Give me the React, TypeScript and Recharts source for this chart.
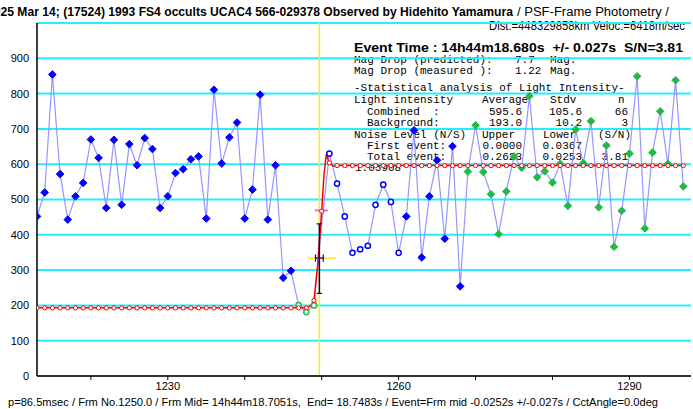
import { CartesianGrid, Line, LineChart, ReferenceLine, XAxis, YAxis } from "recharts";

// observed light curve, one value per frame starting at firstFrame
const firstFrame = 1213;
const observed = [
  452, 520, 854, 572, 443, 509, 547, 670, 618, 476,
  669, 485, 657, 597, 674, 643, 476, 509, 575, 586,
  614, 622, 446, 811, 602, 676, 718, 446, 528, 797,
  443, 597, 278, 298, 201, 181, 200, 430, 630, 545,
  452, 349, 359, 369, 485, 542, 493, 349, 452, 696,
  336, 509, 611, 389, 651, 254, 579, 710, 578, 515,
  402, 523, 622, 590, 793, 563, 580, 548, 601, 482,
  698, 603, 722, 478, 653, 366, 468, 630, 849, 418,
  633, 750, 601, 838, 537,
];

// marker style per frame range
const markerRanges = [
  { from: 1213, to: 1246, kind: "blue" },
  { from: 1247, to: 1249, kind: "greenRing" },
  { from: 1250, to: 1250, kind: "none" },
  { from: 1251, to: 1260, kind: "blueRing" },
  { from: 1261, to: 1268, kind: "blue" },
  { from: 1269, to: 1297, kind: "green" },
];

// fitted model (red curve)
const modelBase = 193;
const modelTop = 596;
const modelStepFrames = [1248.5, 1249, 1249.5, 1250, 1250.3, 1250.6, 1250.85, 1251, 1251.5, 1252];
const modelStepValues = [198, 214, 320, 467, 570, 628, 612, 604, 594, 596];
const lastFrame = 1297;

const eventFrame = 1249.7;
const eventLow = 234;
const eventHigh = 431;
const eventMid = 334;
const halfLevel = 469;

const xTicks = [1220, 1230, 1240, 1250, 1260, 1270, 1280, 1290];
const xLabels = [1230, 1260, 1290];
const yTicks = [0, 100, 200, 300, 400, 500, 600, 700, 800, 900];

const kindOf = (frame: number) =>
  markerRanges.find((r) => frame >= r.from && frame <= r.to)?.kind ?? "none";

const obsData = observed.map((v, i) => ({
  frame: firstFrame + i,
  value: v,
  kind: kindOf(firstFrame + i),
}));

const modelData = [
  ...observed
    .map((_, i) => firstFrame + i)
    .filter((f) => f < modelStepFrames[0])
    .map((f) => ({ frame: f, value: modelBase })),
  ...modelStepFrames.map((f, i) => ({ frame: f, value: modelStepValues[i] })),
  ...observed
    .map((_, i) => firstFrame + i)
    .filter((f) => f > 1252 && f <= lastFrame)
    .map((f) => ({ frame: f, value: modelTop })),
];

const BLUE = "#0000ff";
const GREEN = "#22b84a";

const ObsDot = (props: any) => {
  const { cx, cy, payload } = props;
  if (cx == null || cy == null) return null;
  const k = payload.kind;
  if (k === "blue" || k === "green") {
    const s = 3.8;
    return (
      <polygon
        key={`d${payload.frame}`}
        points={`${cx},${cy - s} ${cx + s},${cy} ${cx},${cy + s} ${cx - s},${cy}`}
        fill={k === "blue" ? BLUE : GREEN}
        stroke={k === "blue" ? BLUE : GREEN}
        strokeWidth={1}
      />
    );
  }
  if (k === "blueRing" || k === "greenRing") {
    return (
      <circle
        key={`d${payload.frame}`}
        cx={cx}
        cy={cy}
        r={2.6}
        fill="#fff"
        stroke={k === "blueRing" ? BLUE : GREEN}
        strokeWidth={1.5}
      />
    );
  }
  return <g key={`d${payload.frame}`} />;
};

const ModelDot = (props: any) => {
  const { cx, cy, payload } = props;
  if (cx == null || !Number.isInteger(payload.frame)) return <g key={`m${payload.frame}`} />;
  return <circle key={`m${payload.frame}`} cx={cx} cy={cy} r={2.1} fill="#fff" stroke="#ff0000" strokeWidth={1} />;
};

const mono = { fontFamily: "'Liberation Mono', monospace", fontSize: 11, fill: "#000" };
const sans = "'Liberation Sans', Arial, sans-serif";

const T = ({ x, y, children, anchor = "start" }: any) => (
  <text x={x} y={y} textAnchor={anchor} dominantBaseline="central" xmlSpace="preserve" style={mono}>
    {children}
  </text>
);

const TextLayer = () => (
  <svg width={693} height={409} style={{ position: "absolute", left: 0, top: 0 }}>
    <text x={-13} y={12} dominantBaseline="central" textLength={526} lengthAdjust="spacingAndGlyphs"
      style={{ fontFamily: sans, fontSize: 12, fontWeight: "bold", fill: "#000" }}>
      2025 Mar 14; (17524) 1993 FS4 occults UCAC4 566-029378 Observed by Hidehito Yamamura
    </text>
    <text x={517} y={12} dominantBaseline="central" textLength={152} lengthAdjust="spacingAndGlyphs"
      style={{ fontFamily: sans, fontSize: 12, fill: "#000" }}>
      / PSF-Frame Photometry /
    </text>
    <text x={489} y={26} dominantBaseline="central" textLength={196} lengthAdjust="spacingAndGlyphs"
      style={{ fontFamily: sans, fontSize: 12, fill: "#000" }}>
      Dist.=448329858km Veloc.=6418m/sec
    </text>

    <text x={354} y={48} dominantBaseline="central" textLength={329} lengthAdjust="spacingAndGlyphs" xmlSpace="preserve"
      style={{ fontFamily: sans, fontSize: 12.5, fontWeight: "bold", fill: "#000" }}>
      Event Time : 14h44m18.680s  +/- 0.027s  S/N=3.81
    </text>
    <T x={354} y={60}>Mag Drop (predicted):</T>
    <T x={515} y={60}>7.7</T>
    <T x={550} y={60}>Mag.</T>
    <T x={354} y={71}>Mag Drop (measured ):</T>
    <T x={515} y={71}>1.22</T>
    <T x={550} y={71}>Mag.</T>
    <T x={354} y={88}>-Statistical analysis of Light Intensity-</T>
    <T x={354} y={100}>Light intensity</T>
    <T x={482} y={100}>Average</T>
    <T x={550} y={100}>Stdv</T>
    <T x={618} y={100}>n</T>
    <T x={367} y={111.5}>Combined  :</T>
    <T x={522} y={111.5} anchor="end">595.6</T>
    <T x={582} y={111.5} anchor="end">105.6</T>
    <T x={628} y={111.5} anchor="end">66</T>
    <T x={367} y={123}>Background:</T>
    <T x={522} y={123} anchor="end">193.0</T>
    <T x={582} y={123} anchor="end">10.2</T>
    <T x={628} y={123} anchor="end">3</T>
    <T x={354} y={135}>Noise Level (N/S)</T>
    <T x={482} y={135}>Upper</T>
    <T x={543} y={135}>Lower</T>
    <T x={598} y={135}>(S/N)</T>
    <T x={367} y={146}>First event:</T>
    <T x={522} y={146} anchor="end">0.0000</T>
    <T x={582} y={146} anchor="end">0.0367</T>
    <T x={367} y={157}>Total event:</T>
    <T x={522} y={157} anchor="end">0.2623</T>
    <T x={582} y={157} anchor="end">0.0253</T>
    <T x={628} y={157} anchor="end">3.81</T>
    <T x={355} y={168}>1.05908</T>

    <text x={8} y={402} dominantBaseline="central" textLength={650} lengthAdjust="spacingAndGlyphs" xmlSpace="preserve"
      style={{ fontFamily: sans, fontSize: 11, fill: "#000" }}>
      p=86.5msec / Frm No.1250.0 / Frm Mid= 14h44m18.7051s,  End= 18.7483s / Event=Frm mid -0.0252s +/-0.027s / CctAngle=0.0deg
    </text>
  </svg>
);

const tickFont = { fontFamily: "'Liberation Sans Narrow', 'Liberation Sans', Arial, sans-serif", fontSize: 11, fill: "#000" };

export default function App() {
  return (
    <div style={{ position: "absolute", left: 0, top: 0, width: 693, height: 409, background: "#fff", overflow: "hidden" }}>
      <TextLayer />
      <div style={{ position: "absolute", left: 0, top: 0 }}>
        <LineChart width={693} height={409} margin={{ top: 23, right: 2, bottom: 0, left: 0 }}>
          <CartesianGrid vertical={false} stroke="#22eeff" strokeWidth={2} />
          <XAxis
            type="number"
            dataKey="frame"
            domain={[1213, 1298]}
            allowDataOverflow
            ticks={xTicks}
            tickFormatter={(v: number) => (xLabels.includes(v) ? String(v) : "")}
            height={33}
            tickSize={4}
            tickMargin={2}
            tick={tickFont}
            tickLine={{ stroke: "#000" }}
            axisLine={{ stroke: "#333", strokeWidth: 2 }}
          />
          <YAxis
            type="number"
            domain={[0, 1000]}
            ticks={yTicks}
            width={37}
            tickLine={false}
            tickSize={0}
            tickMargin={8}
            tick={tickFont}
            axisLine={{ stroke: "#000", strokeWidth: 1.5 }}
          />
          <ReferenceLine x={eventFrame} stroke="#ffee00" strokeWidth={1.5} />
          <Line
            data={obsData}
            dataKey="value"
            stroke="#9595ff"
            strokeWidth={1.2}
            dot={<ObsDot />}
            activeDot={false}
            isAnimationActive={false}
          />
          <Line
            data={modelData}
            dataKey="value"
            stroke="#ff0000"
            strokeWidth={1.5}
            dot={<ModelDot />}
            activeDot={false}
            isAnimationActive={false}
          />
          <ReferenceLine segment={[{ x: 1248.2, y: eventMid }, { x: 1251.8, y: eventMid }]} stroke="#ffee00" strokeWidth={1.5} />
          <ReferenceLine segment={[{ x: 1249.1, y: halfLevel }, { x: 1250.8, y: halfLevel }]} stroke="#ff66cc" strokeWidth={2} />
          <ReferenceLine segment={[{ x: eventFrame, y: eventLow }, { x: eventFrame, y: eventHigh }]} stroke="#000080" strokeWidth={1.5} />
          <ReferenceLine segment={[{ x: eventFrame - 0.35, y: eventLow }, { x: eventFrame + 0.35, y: eventLow }]} stroke="#000080" strokeWidth={1.2} />
          <ReferenceLine segment={[{ x: eventFrame - 0.35, y: eventHigh }, { x: eventFrame + 0.35, y: eventHigh }]} stroke="#000080" strokeWidth={1.2} />
          <ReferenceLine segment={[{ x: eventFrame - 0.5, y: eventMid }, { x: eventFrame + 0.5, y: eventMid }]} stroke="#000080" strokeWidth={1.2} />
          <ReferenceLine segment={[{ x: eventFrame - 0.5, y: eventMid - 10 }, { x: eventFrame - 0.5, y: eventMid + 10 }]} stroke="#000080" strokeWidth={1.2} />
          <ReferenceLine segment={[{ x: eventFrame + 0.5, y: eventMid - 10 }, { x: eventFrame + 0.5, y: eventMid + 10 }]} stroke="#000080" strokeWidth={1.2} />
        </LineChart>
      </div>
    </div>
  );
}
